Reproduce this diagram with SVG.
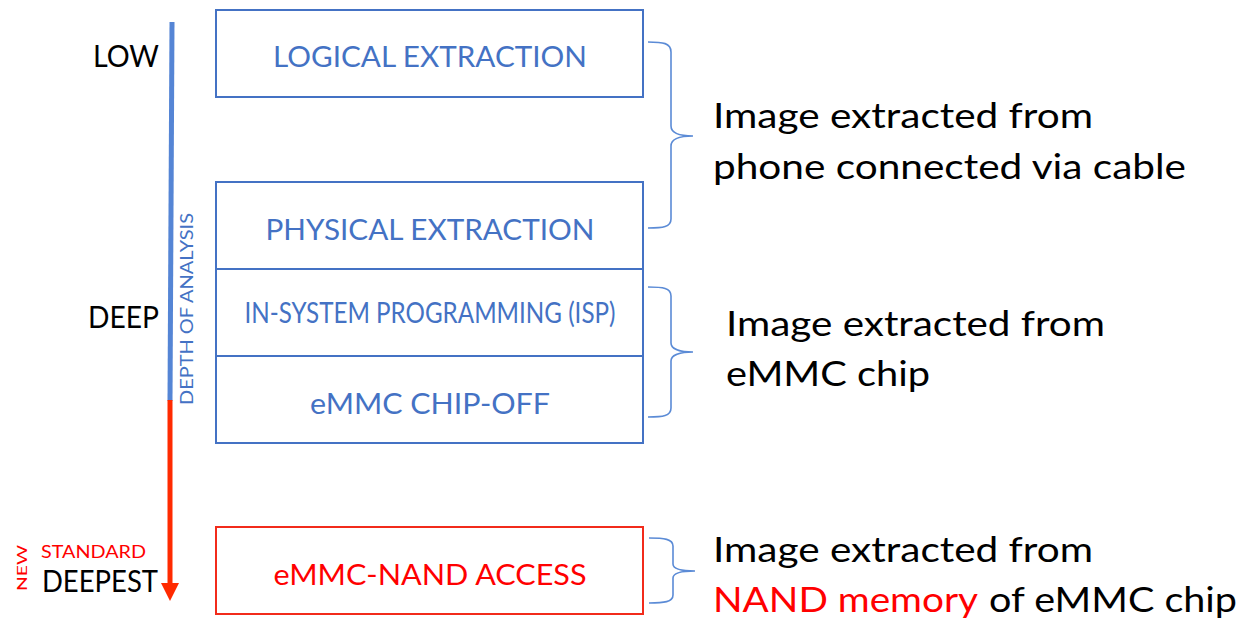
<svg xmlns="http://www.w3.org/2000/svg" width="1246" height="619" viewBox="0 0 1246 619">
<style>
text{font-family:Lato,"Open Sans","Liberation Sans",sans-serif;}
.box{fill:#fff;stroke:#4472C4;stroke-width:2;}
.rbox{fill:#fff;stroke:#F22B1B;stroke-width:2;}
.bt{fill:#4472C4;font-size:28px;text-anchor:middle;}
.rt{fill:#FF0000;font-size:28px;text-anchor:middle;}
.lbl{fill:#000;font-size:30px;text-anchor:end;}
.big{fill:#000;font-size:34px;}
.brace{fill:none;stroke:#5B8BD6;stroke-width:1.6;}
</style>
<g id="axis">
<line x1="172" y1="22" x2="170" y2="401" stroke="#5585D5" stroke-width="5"/>
<line x1="170" y1="400" x2="170" y2="586" stroke="#FF2A00" stroke-width="5"/>
<polygon points="161,583 179,583 170,601" fill="#FF2A00"/>
<text transform="translate(193,309) rotate(-90)" fill="#4472C4" font-size="18" text-anchor="middle" textLength="192" lengthAdjust="spacingAndGlyphs">DEPTH OF ANALYSIS</text>
</g>
<g id="labels">
<text class="lbl" x="159" y="67" textLength="66" lengthAdjust="spacingAndGlyphs">LOW</text>
<text class="lbl" x="159" y="328" textLength="71" lengthAdjust="spacingAndGlyphs">DEEP</text>
<text class="lbl" x="158" y="592" font-size="28" textLength="116" lengthAdjust="spacingAndGlyphs">DEEPEST</text>
<text x="146" y="558" fill="#FF0000" font-size="17.5" text-anchor="end" textLength="105" lengthAdjust="spacingAndGlyphs">STANDARD</text>
<text transform="translate(27,568) rotate(-90)" fill="#FF0000" font-size="14" text-anchor="middle" textLength="46" lengthAdjust="spacingAndGlyphs">NEW</text>
</g>
<g id="logical">
<rect class="box" x="216" y="10" width="427" height="87"/>
<text class="bt" x="430" y="67" textLength="314" lengthAdjust="spacingAndGlyphs">LOGICAL EXTRACTION</text>
</g>
<g id="physical">
<rect class="box" x="216" y="182" width="427" height="87"/>
<text class="bt" x="430" y="240" textLength="329" lengthAdjust="spacingAndGlyphs">PHYSICAL EXTRACTION</text>
</g>
<g id="isp">
<rect class="box" x="216" y="269" width="427" height="87"/>
<text class="bt" x="430" y="323" font-size="23" textLength="371" lengthAdjust="spacingAndGlyphs">IN-SYSTEM PROGRAMMING (ISP)</text>
</g>
<g id="chipoff">
<rect class="box" x="216" y="356" width="427" height="87"/>
<text class="bt" x="430" y="414" textLength="240" lengthAdjust="spacingAndGlyphs">eMMC CHIP-OFF</text>
</g>
<g id="nand">
<rect class="rbox" x="216" y="527" width="427" height="87"/>
<text class="rt" x="430" y="585" textLength="313" lengthAdjust="spacingAndGlyphs">eMMC-NAND ACCESS</text>
</g>
<g id="connectors">
<path class="brace" d="M648,42 C663,42 671,43 671,52 L671,126 C671,133 680,136 693,136 C680,136 671,139 671,146 L671,219 C671,227 663,228 648,228"/>
<path class="brace" d="M648,287 C663,287 671,288 671,296 L671,343 C671,349 680,352 693,352 C680,352 671,355 671,361 L671,408 C671,416 663,417 648,417"/>
<path class="brace" d="M649,538 C664,538 673,539 673,546 L673,564 C673,569 682,571 695,571 C682,571 673,573 673,578 L673,595 C673,602 664,603 649,603"/>
</g>
<g id="desc1">
<text class="big" x="713" y="128" textLength="380" lengthAdjust="spacingAndGlyphs">Image extracted from</text>
<text class="big" x="713" y="179" textLength="473" lengthAdjust="spacingAndGlyphs">phone connected via cable</text>
</g>
<g id="desc2">
<text class="big" x="726" y="336" textLength="379" lengthAdjust="spacingAndGlyphs">Image extracted from</text>
<text class="big" x="726" y="386" textLength="204" lengthAdjust="spacingAndGlyphs">eMMC chip</text>
</g>
<g id="desc3">
<text class="big" x="713" y="562" textLength="380" lengthAdjust="spacingAndGlyphs">Image extracted from</text>
<text class="big" x="713" y="612"><tspan fill="#FF0000" textLength="265" lengthAdjust="spacingAndGlyphs">NAND memory</tspan><tspan x="989" textLength="248" lengthAdjust="spacingAndGlyphs">of eMMC chip</tspan></text>
</g>
</svg>
